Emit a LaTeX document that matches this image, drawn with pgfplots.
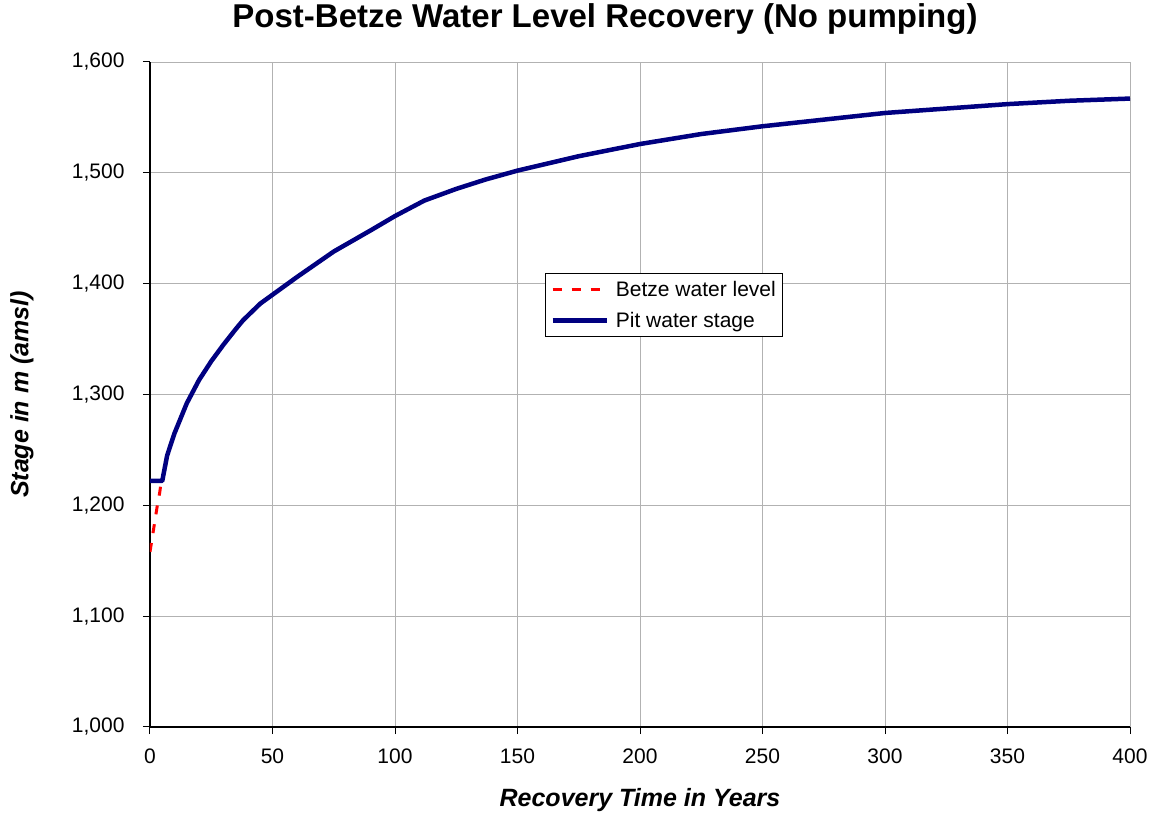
\documentclass[border=0pt]{standalone}
\usepackage{fontspec}
\setmainfont{Liberation Sans}
\usepackage{pgfplots}
\pgfplotsset{compat=1.18}
\begin{document}
\begin{tikzpicture}
\begin{axis}[
  scale only axis,
  width=980pt, height=665pt,
  xmin=0, xmax=400, ymin=1000, ymax=1600,
  xtick={0,50,...,400},
  ytick={1000,1100,...,1600},
  axis lines*=left,
  axis line style={black, line width=1.6pt},
  tick style={black, line width=1pt},
  tick align=outside,
  major tick length=7pt,
  grid=major,
  grid style={gray!60, line width=0.8pt},
  /pgf/number format/assume math mode=true,
  /pgf/number format/1000 sep={,},
  ticklabel style={font=\fontsize{21}{24}\selectfont},
  xticklabel style={yshift=-11pt},
  yticklabel style={xshift=-15pt},
  title={\fontsize{33}{38}\selectfont\bfseries Post-Betze Water Level Recovery (No pumping)},
  title style={at={(axis description cs:0.5,1)}, anchor=center, yshift=37pt, xshift=-35pt},
  xlabel={\fontsize{25}{30}\selectfont\bfseries\itshape Recovery Time in Years},
  xlabel style={at={(axis description cs:0.5,0)}, anchor=center, yshift=-73pt},
  ylabel={\fontsize{25}{30}\selectfont\bfseries\itshape Stage in m (amsl)},
  ylabel style={at={(axis description cs:0,0.5)}, anchor=center, yshift=128pt},
  legend style={at={(0.403,0.683)}, anchor=north west, draw=black, line width=0.8pt,
    font=\fontsize{21}{25}\selectfont, row sep=10pt, inner xsep=5pt, inner ysep=6pt},
  legend cell align=left,
  legend image code/.code={\draw[#1] (0cm,0cm) -- (1.9cm,0cm);},
]
\addplot[red, line width=3pt, dash pattern=on 9pt off 10pt] coordinates {
  (0,1158) (1,1172) (2,1186) (3,1200) (4,1212) (4.6,1222)
};
\addlegendentry{\hspace{5pt}Betze water level}
\addplot[color={rgb,255:red,0;green,0;blue,128}, line width=4.5pt, line join=round] coordinates {
  (0,1222) (5,1222) (7,1245) (10,1265) (15,1292) (20,1313) (25,1330) (30,1345)
  (35,1359) (38,1367) (45,1382) (50,1390) (60,1406) (75,1429) (90,1448)
  (100,1461) (112,1475) (125,1485.5) (137,1494) (150,1502) (175,1515)
  (200,1526) (225,1535) (250,1542) (275,1548) (300,1554) (325,1558)
  (350,1562) (375,1565) (400,1567)
};
\addlegendentry{\hspace{5pt}Pit water stage}
\coordinate (bl) at (rel axis cs:0,0);
\coordinate (tr) at (rel axis cs:1,1);
\end{axis}
\path ([shift={(-150pt,-88pt)}]bl) ([shift={(25pt,62pt)}]tr);
\end{tikzpicture}
\end{document}
